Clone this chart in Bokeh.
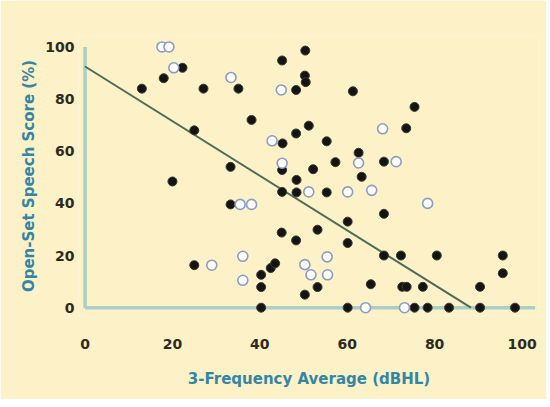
from bokeh.plotting import figure
from bokeh.models import Range1d, FixedTicker
from bokeh.embed import file_html
from bokeh.resources import INLINE

# ---- data ----
filled_x = [13.0, 18.0, 22.3, 27.1, 35.1, 38.1, 25.0, 33.3, 20.0, 33.3,
            25.0, 40.3, 42.5, 43.5, 40.3, 40.3, 45.0, 48.3, 53.2, 60.1,
            60.1, 68.4, 68.4, 72.3, 80.5, 95.6, 95.6, 65.4, 72.6, 73.6,
            77.3, 90.4, 50.3, 53.2, 60.1, 75.4, 78.4, 83.3, 90.4, 98.4,
            50.4, 45.1, 50.3, 50.5, 48.3, 61.3, 51.2, 48.3, 45.2, 55.3,
            45.1, 52.2, 57.3, 62.6, 63.3, 68.4, 48.4, 45.1, 48.4, 55.3,
            73.5, 75.4]
filled_y = [84, 88, 92, 84, 84, 72, 68, 54, 48.4, 39.6,
            16.3, 12.6, 15.2, 17.0, 7.9, 0, 28.8, 25.8, 29.9, 33,
            24.8, 36, 20, 20, 20, 20, 13.2, 9, 8, 8,
            8, 8, 5, 7.9, 0, 0, 0, 0, 0, 0,
            98.6, 94.8, 89, 86.5, 83.5, 83, 69.8, 66.8, 63, 63.8,
            52.8, 53.1, 55.8, 59.4, 50.2, 56, 49, 44.4, 44.2, 44.2,
            68.8, 77]

open_x = [17.6, 19.2, 20.3, 33.4, 35.5, 38.1, 29.0, 36.1, 36.1, 50.3,
          51.7, 55.5, 55.4, 64.2, 73.1, 78.4, 71.2, 68.1, 62.6, 45.1,
          44.9, 42.8, 51.2, 60.1, 65.6]
open_y = [100, 100, 92, 88.3, 39.6, 39.6, 16.3, 19.7, 10.5, 16.5,
          12.6, 12.6, 19.5, 0, 0, 40, 56, 68.6, 55.5, 55.4,
          83.5, 64, 44.4, 44.4, 45]

fit_x = [0, 88.3]
fit_y = [92.5, 0]

x_ticks = [0, 20, 40, 60, 80, 100]
y_ticks = [0, 20, 40, 60, 80, 100]

x_title = "3-Frequency Average (dBHL)"
y_title = "Open-Set Speech Score (%)"

BG = "#fcf1c7"
AXIS_LINE = "#a9cfc6"
TICK_COLOR = "#2e2a1f"
TITLE_COLOR = "#3585a5"

p = figure(width=546, height=399, output_backend="svg", toolbar_location=None,
           x_range=Range1d(-1.5, 104), y_range=Range1d(-3, 104),
           min_border_left=78, min_border_right=7,
           min_border_top=36, min_border_bottom=84)
p.frame_width = 461
p.frame_height = 279

p.background_fill_color = BG
p.border_fill_color = BG
p.outline_line_color = None
p.grid.visible = False

for ax in (p.xaxis[0], p.yaxis[0]):
    ax.axis_line_color = None
    ax.major_tick_line_color = None
    ax.minor_tick_line_color = None
    ax.major_label_text_font = "DejaVu Sans"
    ax.major_label_text_font_style = "bold"
    ax.major_label_text_font_size = "14px"
    ax.major_label_text_color = TICK_COLOR
    ax.axis_label_text_font = "DejaVu Sans"
    ax.axis_label_text_font_style = "bold"
    ax.axis_label_text_font_size = "15px"
    ax.axis_label_text_color = TITLE_COLOR

p.xaxis.ticker = FixedTicker(ticks=x_ticks)
p.yaxis.ticker = FixedTicker(ticks=y_ticks)
p.xaxis.major_label_standoff = 17
p.yaxis.major_label_standoff = -2
p.xaxis.axis_label = x_title
p.yaxis.axis_label = y_title
p.xaxis.axis_label_standoff = 18
p.yaxis.axis_label_standoff = 4

# axis lines drawn at the data origin
p.segment(x0=[x_ticks[0]], y0=[y_ticks[0]], x1=[x_ticks[0]], y1=[y_ticks[-1]],
          line_color=AXIS_LINE, line_width=3.5)
p.segment(x0=[x_ticks[0]], y0=[y_ticks[0]], x1=[103], y1=[y_ticks[0]],
          line_color=AXIS_LINE, line_width=3.5)

# regression line
p.line(fit_x, fit_y, line_color="#4e6b58", line_width=2)

# points
p.scatter(x=filled_x, y=filled_y, size=9, fill_color="#141414",
          line_color="#3a3a30", line_width=1)
p.scatter(x=open_x, y=open_y, size=10, fill_color="white",
          line_color="#8e9cc2", line_width=1.6)

open("out.html", "w").write(file_html(p, INLINE))
